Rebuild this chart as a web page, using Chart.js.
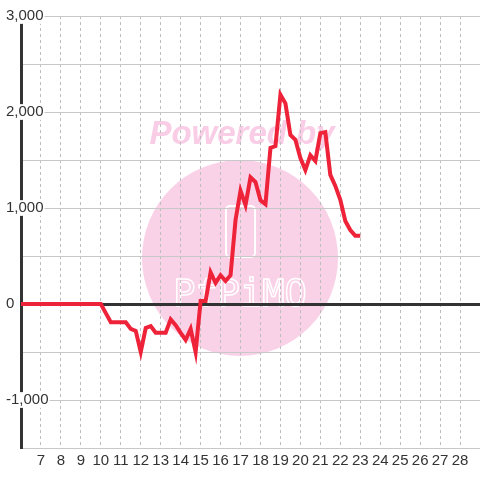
<!DOCTYPE html>
<html>
<head>
<meta charset="utf-8">
<script src="https://cdn.jsdelivr.net/npm/chart.js@4/dist/chart.umd.min.js"></script>
<style>
  html, body { margin: 0; padding: 0; background: #fff; }
  #wrap { width: 480px; height: 480px; }
</style>
</head>
<body>
<div id="wrap"><canvas id="chart"></canvas></div>
<script>
// data
const days = [6, 7, 8, 9, 10, 10.25, 10.5, 10.75, 11, 11.25, 11.5, 11.75, 12, 12.25, 12.5, 12.75,
  13, 13.25, 13.5, 13.75, 14, 14.25, 14.5, 14.75, 15, 15.25, 15.5, 15.75, 16, 16.25, 16.5, 16.75,
  17, 17.25, 17.5, 17.75, 18, 18.25, 18.5, 18.75, 19, 19.25, 19.5, 19.75, 20, 20.25, 20.5, 20.75,
  21, 21.25, 21.5, 21.75, 22, 22.25, 22.5, 22.75, 23];
const values = [0, 0, 0, 0, 0, -95, -190, -190, -190, -190, -260, -280, -500, -250, -230, -300,
  -300, -300, -160, -220, -300, -375, -260, -500, 30, 30, 330, 220, 300, 240, 300, 875,
  1180, 1030, 1320, 1270, 1080, 1040, 1625, 1645, 2180, 2090, 1760, 1710, 1520, 1395, 1550, 1490,
  1780, 1790, 1345, 1230, 1085, 865, 770, 710, 710];
const xTicks = [7, 8, 9, 10, 11, 12, 13, 14, 15, 16, 17, 18, 19, 20, 21, 22, 23, 24, 25, 26, 27, 28];
const yLabels = [3000, 2000, 1000, 0, -1000];

const gridGrey = '#c8c8c8';
const dark = '#333333';
const lineRed = '#ee2238';

// pink "Powered by" watermark sitting behind the grid
const watermark = {
  id: 'watermark',
  beforeDraw(chart) {
    const ctx = chart.ctx;
    ctx.save();
    ctx.fillStyle = '#ffffff';
    ctx.fillRect(0, 0, chart.width, chart.height);
    const cx = chart.width / 2;
    ctx.fillStyle = '#fad2e8';
    ctx.beginPath();
    ctx.arc(cx, 258, 98, 0, Math.PI * 2);
    ctx.fill();
    ctx.fillStyle = '#f9cde6';
    ctx.font = 'italic bold 33px "Liberation Sans", Arial, sans-serif';
    ctx.textAlign = 'center';
    ctx.textBaseline = 'alphabetic';
    ctx.fillText('Powered by', cx + 2, 144);
    ctx.strokeStyle = '#ffffff';
    ctx.lineWidth = 2;
    ctx.beginPath();
    ctx.roundRect(226, 206, 29, 51, 4);
    ctx.stroke();
    ctx.font = '37px "DejaVu Sans Mono", monospace';
    ctx.lineWidth = 1.5;
    ctx.strokeText('PfPiMO', cx, 306);
    ctx.restore();
  }
};

new Chart(document.getElementById('chart'), {
  type: 'line',
  data: {
    datasets: [{
      data: days.map((d, i) => ({ x: d, y: values[i] })),
      borderColor: lineRed,
      borderWidth: 4,
      pointRadius: 0,
      tension: 0,
      fill: false
    }]
  },
  options: {
    responsive: true,
    maintainAspectRatio: false,
    animation: false,
    layout: { padding: { left: 6, top: 16, right: 0, bottom: 6 } },
    plugins: { legend: { display: false }, tooltip: { enabled: false } },
    scales: {
      x: {
        type: 'linear',
        min: 6,
        max: 29,
        afterBuildTicks: (scale) => { scale.ticks = xTicks.map(v => ({ value: v })); },
        grid: { color: '#bdbdbd', lineWidth: 1, drawTicks: false },
        // in v4 the grid line dash lives on border
        border: { color: gridGrey, width: 1, dash: [3, 3] },
        ticks: {
          padding: 4,
          color: dark,
          maxRotation: 0,
          autoSkip: false,
          font: { family: '"Liberation Sans", Arial, sans-serif', size: 15 }
        }
      },
      y: {
        min: -1500,
        max: 3000,
        afterFit: (scale) => { scale.width = 15; },
        grid: {
          drawTicks: false,
          color: (c) => c.tick && c.tick.value === 0 ? dark : gridGrey,
          lineWidth: (c) => c.tick && c.tick.value === 0 ? 3 : 1
        },
        border: { color: dark, width: 3 },
        ticks: {
          stepSize: 500,
          mirror: true,
          padding: -15,
          color: dark,
          showLabelBackdrop: true,
          backdropColor: '#ffffff',
          backdropPadding: { x: 1, y: 0 },
          font: { family: '"Liberation Sans", Arial, sans-serif', size: 15, lineHeight: 1.05 },
          callback: (v) => yLabels.includes(v) ? v.toLocaleString('en-US') : ''
        }
      }
    }
  },
  plugins: [watermark]
});
</script>
</body>
</html>
